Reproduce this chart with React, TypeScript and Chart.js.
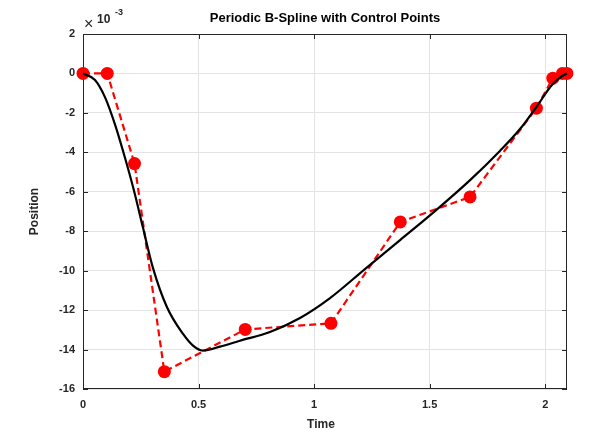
import React, { useEffect, useRef } from "react";
import { Chart, registerables } from "chart.js";
Chart.register(...registerables);

const titleText = "Periodic B-Spline with Control Points";
const xLabel = "Time";
const yLabel = "Position";
const yExponent = "-3";
const yScale = 1e-3;

const xTicks = [0, 0.5, 1, 1.5, 2];
const yTicks = [2, 0, -2, -4, -6, -8, -10, -12, -14, -16];
const xMin = 0;
const xMax = 2.0944;
const yMin = -16;
const yMax = 2;

// control points (y in units of 1e-3)
const controlX = [0, 0.105, 0.223, 0.352, 0.702, 1.073, 1.373, 1.675, 1.962, 2.033, 2.075, 2.094];
const controlY = [0, 0, -4.57, -15.12, -12.98, -12.67, -7.53, -6.26, -1.76, -0.24, 0, 0];

// spline curve samples (y in units of 1e-3)
const curveX = [0, 0.052, 0.095, 0.138, 0.182, 0.221, 0.26, 0.303, 0.363, 0.433, 0.476, 0.519, 0.593, 0.679, 0.809, 0.939, 1.069, 1.22, 1.372, 1.523, 1.675, 1.804, 1.891, 1.965, 2.029, 2.073, 2.094];
const curveY = [0, -0.33, -1.2, -2.57, -4.29, -5.96, -7.84, -9.87, -11.84, -13.21, -13.8, -14.05, -13.85, -13.55, -13.11, -12.4, -11.39, -9.92, -8.45, -6.98, -5.41, -3.93, -2.82, -1.65, -0.59, -0.13, 0];

const FONT = "'Liberation Sans', Arial, Helvetica, sans-serif";
const TEXT = "#262626";

const decorPlugin = {
  id: "decor",
  beforeDatasetsDraw(chart: any) {
    const { ctx, chartArea: a, scales } = chart;
    ctx.save();
    ctx.strokeStyle = TEXT;
    ctx.lineWidth = 1;
    ctx.strokeRect(a.left + 0.5, a.top + 0.5, a.right - a.left - 1, a.bottom - a.top - 1);
    const tl = 5;
    ctx.beginPath();
    for (const v of xTicks) {
      const px = Math.round(scales.x.getPixelForValue(v)) + 0.5;
      ctx.moveTo(px, a.bottom);
      ctx.lineTo(px, a.bottom - tl);
      ctx.moveTo(px, a.top);
      ctx.lineTo(px, a.top + tl);
    }
    for (const v of yTicks) {
      const py = Math.round(scales.y.getPixelForValue(v * yScale)) + 0.5;
      ctx.moveTo(a.left, py);
      ctx.lineTo(a.left + tl, py);
      ctx.moveTo(a.right, py);
      ctx.lineTo(a.right - tl, py);
    }
    ctx.stroke();
    ctx.restore();
  },
  afterDraw(chart: any) {
    const { ctx, chartArea: a } = chart;
    ctx.save();
    ctx.fillStyle = "#000";
    ctx.font = `bold 13px ${FONT}`;
    ctx.textAlign = "center";
    ctx.textBaseline = "middle";
    ctx.fillText(titleText, (a.left + a.right) / 2, 18.5);
    ctx.fillStyle = TEXT;
    ctx.font = `bold 12px ${FONT}`;
    ctx.fillText(xLabel, 321, 425);
    ctx.save();
    ctx.translate(35, (a.top + a.bottom) / 2);
    ctx.rotate(-Math.PI / 2);
    ctx.fillText(yLabel, 0, 0);
    ctx.restore();
    // exponent
    ctx.textAlign = "left";
    ctx.font = `16px ${FONT}`;
    ctx.fillText("\u00d7", 84, 25);
    ctx.font = `bold 12px ${FONT}`;
    ctx.fillText("10", 97, 19.5);
    ctx.font = `bold 9px ${FONT}`;
    ctx.fillText(yExponent, 115, 12.5);
    ctx.restore();
  },
};

export default function App() {
  const ref = useRef<HTMLCanvasElement>(null);
  useEffect(() => {
    document.body.style.margin = "0";
    const canvas = ref.current!;
    const chart = new Chart(canvas, {
      type: "scatter",
      data: {
        datasets: [
          {
            label: "Control polygon",
            data: controlX.map((x, i) => ({ x, y: controlY[i] * yScale })),
            showLine: true,
            borderColor: "#ff0000",
            backgroundColor: "#ff0000",
            borderWidth: 2.2,
            borderDash: [7, 4],
            pointRadius: 6.5,
            pointBorderWidth: 0,
            pointBackgroundColor: "#ff0000",
            clip: false as any,
            order: 2,
          },
          {
            label: "B-spline",
            data: curveX.map((x, i) => ({ x, y: curveY[i] * yScale })),
            showLine: true,
            borderColor: "#000000",
            borderWidth: 2.2,
            pointRadius: 0,
            cubicInterpolationMode: "monotone",
            clip: false as any,
            order: 1,
          },
        ],
      },
      options: {
        animation: false,
        responsive: false,
        devicePixelRatio: 1,
        layout: { padding: { left: 0, right: 23, top: 34, bottom: 0 } },
        plugins: { legend: { display: false }, tooltip: { enabled: false }, title: { display: false } },
        scales: {
          x: {
            type: "linear",
            min: xMin,
            max: xMax,
            afterBuildTicks: (s: any) => {
              s.ticks = xTicks.map((v) => ({ value: v }));
            },
            afterFit: (s: any) => {
              s.height = 52;
            },
            grid: { color: "#e3e3e3", drawTicks: false, tickLength: 0 },
            border: { display: false },
            ticks: {
              padding: 9,
              color: TEXT,
              font: { family: FONT, size: 11, weight: "bold" },
              maxRotation: 0,
              callback: (v: any) => String(v),
            },
          },
          y: {
            type: "linear",
            min: yMin * yScale,
            max: yMax * yScale,
            afterBuildTicks: (s: any) => {
              s.ticks = yTicks.map((v) => ({ value: v * yScale }));
            },
            afterFit: (s: any) => {
              s.width = 83;
            },
            grid: { color: "#e3e3e3", drawTicks: false, tickLength: 0 },
            border: { display: false },
            ticks: {
              padding: 8,
              color: TEXT,
              font: { family: FONT, size: 11, weight: "bold" },
              callback: (v: any) => String(Math.round(Number(v) / yScale)),
            },
          },
        },
      },
      plugins: [decorPlugin],
    });
    return () => chart.destroy();
  }, []);
  return (
    <div style={{ position: "absolute", left: 0, top: 0, width: 590, height: 441, background: "#fff" }}>
      <canvas ref={ref} width={590} height={441} style={{ width: 590, height: 441 }} />
    </div>
  );
}
